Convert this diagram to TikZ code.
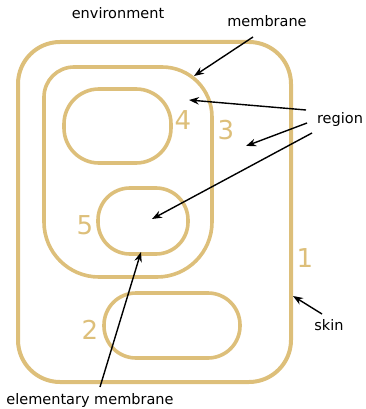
\documentclass[tikz,border=0pt]{standalone}
\usepackage{fontspec}
\setmainfont{DejaVu Sans}
\usetikzlibrary{arrows.meta}
\definecolor{straw}{RGB}{221,191,122}
\tikzset{
  membrane/.style={draw=straw, line width=3.6pt},
  tag/.style={text=straw, font=\fontsize{26}{28}\selectfont},
  word/.style={font=\fontsize{14.5}{17}\selectfont, inner sep=1pt},
  pointer/.style={-{Stealth[length=10pt,width=7.5pt]}, line width=1.4pt}
}
\begin{document}
\begin{tikzpicture}[x=1pt,y=-1pt]
        \useasboundingbox (0,0) rectangle (365,409);
        % skin (1)
        \draw[membrane, line width=4pt, rounded corners=42] (18,42) rectangle (291,382);
        % membrane around 3
        \draw[membrane] (44,222) -- (44,97) arc[start angle=180, end angle=270, radius=30]
                -- (162,67) arc[start angle=270, end angle=360, radius=50]
                -- (212,222) arc[start angle=0, end angle=90, radius=55]
                -- (99,277) arc[start angle=90, end angle=180, radius=55] -- cycle;
        % elementary membranes
        \draw[membrane, rounded corners=35] (64,89) rectangle (171,163);
        \draw[membrane, rounded corners=32] (98,188) rectangle (188,254);
        \draw[membrane, rounded corners=32] (104,293) rectangle (240,358);
        % region numbers
        \node[tag] (n1) at (305,258) {1};
        \node[tag] (n2) at (90,330) {2};
        \node[tag] (n3) at (226,130) {3};
        \node[tag] (n4) at (183,120) {4};
        \node[tag] (n5) at (85,225) {5};
        % labels
        \node[word] (env) at (118,13) {environment};
        \node[word] (mem) at (267,21) {membrane};
        \node[word] (reg) at (340,119) {region};
        \node[word] (skin) at (329,325) {skin};
        \node[word] (elem) at (90,400) {elementary membrane};
        % arrow ends
        \coordinate (memtip) at (194,76);
        \coordinate (tip4) at (189,100);
        \coordinate (tip3) at (246,146);
        \coordinate (tip5) at (152,219);
        \coordinate (skintip) at (293,296);
        \coordinate (elemtip) at (141,252);
        \coordinate (regA) at (306,110);
        \coordinate (regB) at (307,123);
        \coordinate (regC) at (312,133);
        \draw[pointer] (253,37) coordinate (memfoot) -- (memtip);
        \draw[pointer] (regA) -- (tip4);
        \draw[pointer] (regB) -- (tip3);
        \draw[pointer] (regC) -- (tip5);
        \draw[pointer] (322,314) coordinate (skinfoot) -- (skintip);
        \draw[pointer] (100,387) coordinate (elemfoot) -- (elemtip);
\end{tikzpicture}
\end{document}
